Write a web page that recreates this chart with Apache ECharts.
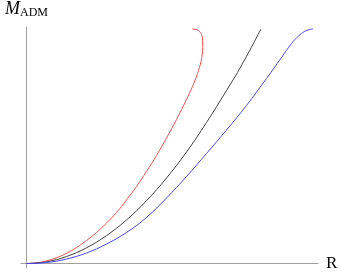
<!DOCTYPE html>
<html>
<head>
<meta charset="utf-8">
<script src="https://cdn.jsdelivr.net/npm/echarts@6/dist/echarts.min.js"></script>
<style>html,body{margin:0;padding:0;background:#fff}#c{width:341px;height:273px}</style>
</head>
<body>
<div id="c"></div>
<script>
// Values (R, M_ADM in arbitrary units)
const redR   = [0,0.10,0.20,0.30,0.40,0.50,0.60,0.70,0.80,0.90,1.00,1.10,1.20,1.30,1.40,1.50,1.60,1.66,1.71,1.745,1.762,1.76,1.745,1.71,1.655];
const redM   = [0,0.006,0.026,0.058,0.102,0.16,0.23,0.31,0.405,0.51,0.635,0.77,0.92,1.08,1.255,1.44,1.64,1.77,1.90,2.02,2.16,2.25,2.30,2.335,2.345];
const blackR = [0,0.20,0.40,0.60,0.80,1.00,1.20,1.40,1.60,1.80,2.00,2.15,2.345];
const blackM = [0,0.017,0.07,0.157,0.279,0.436,0.628,0.855,1.115,1.41,1.73,1.98,2.345];
const blueR  = [0,0.20,0.40,0.60,0.80,1.00,1.20,1.40,1.60,1.80,2.00,2.20,2.40,2.55,2.65,2.72,2.78,2.83,2.865];
const blueM  = [0,0.01,0.045,0.105,0.195,0.31,0.46,0.655,0.87,1.10,1.335,1.58,1.85,2.06,2.20,2.275,2.32,2.34,2.345];

const pairs = (xs, ys) => xs.map((x, i) => [x, ys[i]]);
const chart = echarts.init(document.getElementById('c'), null, {renderer: 'canvas'});
const axisCol = '#a0a0a0';
const serif = '"Liberation Serif", "DejaVu Serif", serif';
chart.setOption({
  animation: false,
  grid: {left: 21, right: 23, top: 27, bottom: 5, containLabel: false},
  xAxis: {
    type: 'value', min: -0.055, max: 2.915,
    name: 'R', nameLocation: 'end', nameGap: 8,
    nameTextStyle: {color: '#000', fontFamily: serif, fontSize: 17, verticalAlign: 'middle', padding: [2,0,0,0]},
    axisLine: {onZero: true, lineStyle: {color: axisCol, width: 1}},
    axisTick: {show: false}, axisLabel: {show: false}, splitLine: {show: false}
  },
  yAxis: {
    type: 'value', min: -0.045, max: 2.365,
    name: '{m|M}{s|ADM}', nameLocation: 'end', nameGap: 9,
    nameTextStyle: {
      color: '#000', fontFamily: serif, align: 'center',
      rich: {
        m: {fontFamily: serif, fontStyle: 'italic', fontSize: 18, color: '#000', verticalAlign: 'bottom'},
        s: {fontFamily: serif, fontSize: 12, color: '#000', verticalAlign: 'bottom', padding: [0,0,-1,0]}
      }
    },
    axisLine: {onZero: true, lineStyle: {color: axisCol, width: 1}},
    axisTick: {show: false}, axisLabel: {show: false}, splitLine: {show: false}
  },
  series: [
    {type: 'line', data: pairs(redR, redM), smooth: 0.4, showSymbol: false, lineStyle: {color: '#ff4a4a', width: 1}},
    {type: 'line', data: pairs(blackR, blackM), smooth: 0.4, showSymbol: false, lineStyle: {color: '#404040', width: 1}},
    {type: 'line', data: pairs(blueR, blueM), smooth: 0.4, showSymbol: false, lineStyle: {color: '#4646ff', width: 1}}
  ]
});
</script>
</body>
</html>
